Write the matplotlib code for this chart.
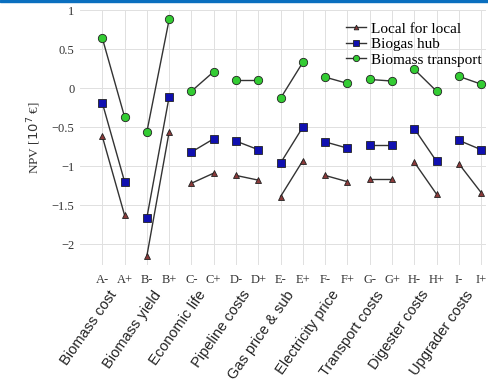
import numpy as np
import matplotlib.pyplot as plt
from matplotlib.patches import Rectangle

tick_labels = ["A-", "A+", "B-", "B+", "C-", "C+", "D-", "D+", "E-", "E+",
               "F-", "F+", "G-", "G+", "H-", "H+", "I-", "I+"]
parameters = ["Biomass cost", "Biomass yield", "Economic life", "Pipeline costs",
              "Gas price & sub", "Electricity price", "Transport costs",
              "Digester costs", "Upgrader costs"]

local_for_local = [-0.62, -1.63, -2.15, -0.56, -1.22, -1.09, -1.12, -1.18, -1.39,
                   -0.93, -1.12, -1.20, -1.16, -1.16, -0.95, -1.36, -0.97, -1.34]
biogas_hub = [-0.19, -1.20, -1.66, -0.11, -0.82, -0.65, -0.68, -0.79, -0.96,
              -0.50, -0.69, -0.77, -0.73, -0.73, -0.52, -0.94, -0.67, -0.79]
biomass_transport = [0.64, -0.37, -0.56, 0.88, -0.04, 0.21, 0.10, 0.10, -0.13,
                     0.33, 0.14, 0.06, 0.11, 0.09, 0.24, -0.04, 0.15, 0.05]

series = [
    ("Local for local", local_for_local, "^", "#8b3a3a", 4.5),
    ("Biogas hub", biogas_hub, "s", "#1010b0", 6),
    ("Biomass transport", biomass_transport, "o", "#33cc33", 6),
]

fig = plt.figure(figsize=(4.88, 3.86), dpi=100)
ax = fig.add_axes([0.164, 0.313, 0.832, 0.661])

# thin blue band along the top edge
fig.patches.append(Rectangle((0, 0.994), 1, 0.006, transform=fig.transFigure,
                             color="#0a6fbf", zorder=0))

x = np.arange(len(tick_labels))
for name, vals, marker, color, ms in series:
    vals = np.array(vals)
    # each parameter is a separate low/high pair
    for i in range(0, len(vals), 2):
        ax.plot(x[i:i + 2], vals[i:i + 2], color="#333333", lw=1.0,
                marker=marker, ms=ms, mfc=color, mec="#222222", mew=0.6,
                zorder=3)
    ax.plot([], [], color="#333333", lw=1.0, marker=marker, ms=ms * 0.75,
            mfc=color, mec="#222222", mew=0.6, label=name)

ax.set_xlim(-1, 17.22)
ax.set_ylim(-2.27, 1)
ax.set_xticks(x)
ax.set_xticklabels(tick_labels, family="Liberation Serif", fontsize=9)
ax.set_yticks([1, 0.5, 0, -0.5, -1, -1.5, -2])
ax.set_yticklabels(["1", "0.5", "0", "\u22120.5", "\u22121", "\u22121.5", "\u22122"],
                   family="Liberation Serif", fontsize=9)
ax.tick_params(axis="y", length=0, pad=4, colors="#333333")
ax.tick_params(axis="x", length=0, pad=6, colors="#333333")
ax.grid(True, color="#e0e0e0", lw=0.7)
ax.set_axisbelow(True)
for s in ax.spines.values():
    s.set_visible(False)

ax.set_ylabel("NPV [$10^7$ \u20ac]", family="Liberation Serif", fontsize=9.5,
              color="#333333", labelpad=6)

# parameter names under each pair of ticks
for k, p in enumerate(parameters):
    ax.text(2 * k + 0.5, -0.105, p, transform=ax.get_xaxis_transform(),
            rotation=55, rotation_mode="anchor", ha="right", va="center",
            fontsize=10.5, family="Liberation Sans", color="#222222")

ax.legend(loc="upper right", bbox_to_anchor=(1.015, 0.995), frameon=False,
          prop={"family": "Liberation Serif", "size": 11}, handlelength=1.3,
          handletextpad=0.3, labelspacing=0.12, borderpad=0.2)

fig.savefig("out.png", dpi=100)
